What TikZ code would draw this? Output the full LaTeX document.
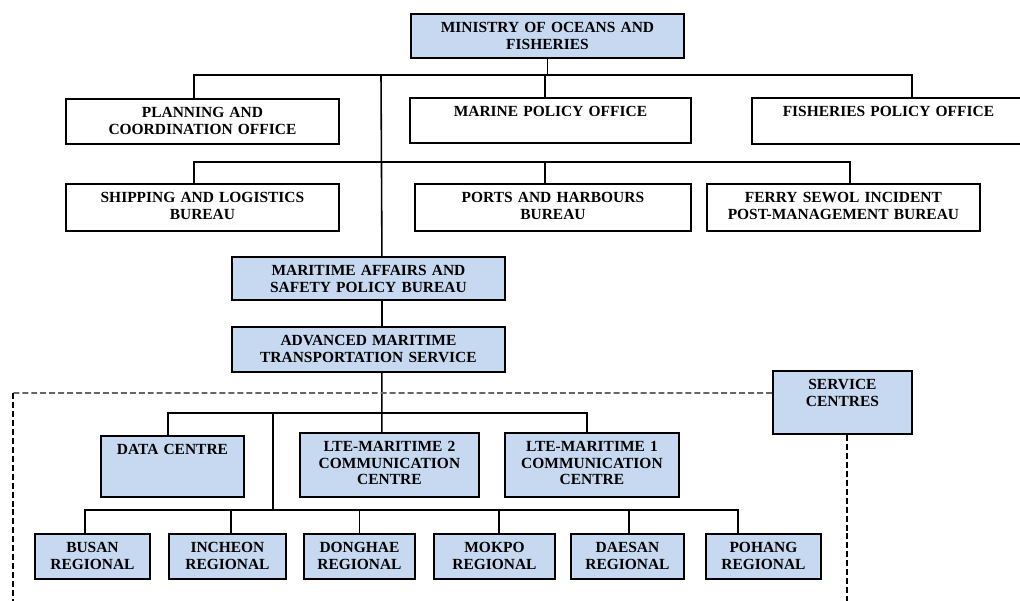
\documentclass[tikz,border=0pt]{standalone}
\usepackage{fontspec}
\setmainfont{Liberation Serif}
\usepackage{tikz}
\usetikzlibrary{positioning}
\definecolor{agencyblue}{RGB}{198,217,240}

\begin{document}
\begin{tikzpicture}[
    x=0.02cm, y=-0.02cm,
    thick,
    unit/.style={rectangle, draw=black, line width=1.1pt, inner sep=0pt, anchor=north west, align=center, text height=0.38cm, font=\bfseries\fontsize{8.8}{9.3}\selectfont},
    office/.style={unit, fill=white},
    agency/.style={unit, fill=agencyblue},
    link/.style={line width=0.9pt},
    boundary/.style={line width=1pt, dash pattern=on 3.4pt off 1.7pt}
]
\useasboundingbox (0,0) rectangle (1020,601);
% Ministry
\node[agency, text width=5.46cm, text depth=0.50cm] (ministry) at (410,13) {MINISTRY OF OCEANS AND\\FISHERIES};
% Offices
\node[office, text width=5.46cm, text depth=0.52cm] (planning) at (65,98) {PLANNING AND\\COORDINATION OFFICE};
\node[office, text width=5.62cm, text depth=0.52cm] (marine) at (409,97) {MARINE POLICY OFFICE};
\node[office, text width=5.46cm, text depth=0.54cm] (fisheries) at (751,97) {FISHERIES POLICY OFFICE};
% Bureaus
\node[office, text width=5.46cm, text depth=0.56cm] (shipping) at (65,183) {SHIPPING AND LOGISTICS\\BUREAU};
\node[office, text width=5.52cm, text depth=0.56cm] (ports) at (414,183) {PORTS AND HARBOURS\\BUREAU};
\node[office, text width=5.46cm, text depth=0.56cm] (ferry) at (706,183) {FERRY SEWOL INCIDENT\\POST-MANAGEMENT BUREAU};
% Maritime safety line
\node[agency, text width=5.46cm, text depth=0.48cm] (maritime) at (231,256) {MARITIME AFFAIRS AND\\SAFETY POLICY BUREAU};
\node[agency, text width=5.46cm, text depth=0.52cm] (advanced) at (231,326) {ADVANCED MARITIME\\TRANSPORTATION SERVICE};
\node[agency, text width=2.78cm, text depth=0.88cm] (service) at (772,370) {SERVICE\\CENTRES};
% Centres
\node[agency, text width=2.86cm, text depth=0.84cm] (data) at (100,435) {DATA CENTRE};
\node[agency, text width=3.58cm, text depth=0.90cm] (lte2) at (299,432) {LTE-MARITIME 2\\COMMUNICATION\\CENTRE};
\node[agency, text width=3.48cm, text depth=0.90cm] (lte1) at (504,432) {LTE-MARITIME 1\\COMMUNICATION\\CENTRE};
% Regional centres
\node[agency, text width=2.30cm, text depth=0.52cm] (busan) at (34,533) {BUSAN\\REGIONAL};
\node[agency, text width=2.34cm, text depth=0.52cm] (incheon) at (168,533) {INCHEON\\REGIONAL};
\node[agency, text width=2.22cm, text depth=0.52cm] (donghae) at (303,533) {DONGHAE\\REGIONAL};
\node[agency, text width=2.42cm, text depth=0.52cm] (mokpo) at (433,533) {MOKPO\\REGIONAL};
\node[agency, text width=2.26cm, text depth=0.52cm] (daesan) at (570,533) {DAESAN\\REGIONAL};
\node[agency, text width=2.30cm, text depth=0.52cm] (pohang) at (705,533) {POHANG\\REGIONAL};
% Bus points
\coordinate (bus1) at (381,75);
\coordinate (bus2) at (381,162);
\coordinate (bus3) at (381,413);
\coordinate (bus4) at (273,510);
\coordinate (corner) at (13,393);
\coordinate (leftend) at (13,605);
\coordinate (rightend) at (847,605);
% Links
\draw[link] (ministry.south) -- (ministry.south |- bus1);
\draw[link] ([xshift=-0.17cm]planning.north) |- (bus1) -| ([xshift=0.47cm]fisheries.north);
\draw[link] ([xshift=-0.11cm]marine.north) |- (bus1);
\draw[link] (bus1) -- ([xshift=0.27cm]maritime.north);
\draw[link] ([xshift=-0.17cm]shipping.north) |- (bus2) -| ([xshift=0.13cm]ferry.north);
\draw[link] ([xshift=-0.16cm]ports.north) |- (bus2);
\draw[link] ([xshift=0.27cm]maritime.south) -- ([xshift=0.27cm]advanced.north);
\draw[link] ([xshift=0.27cm]advanced.south) -- ([xshift=-0.15cm]lte2.north);
\draw[link] ([xshift=-0.09cm]data.north) |- (bus3) -| ([xshift=-0.10cm]lte1.north);
\draw[link] (bus3 -| bus4) -- (bus4);
\draw[link] ([xshift=-0.15cm]busan.north) |- (bus4) -| ([xshift=-0.51cm]pohang.north);
\draw[link] ([xshift=0.07cm]incheon.north) |- (bus4);
\draw[link] (donghae.north) |- (bus4);
\draw[link] ([xshift=0.09cm]mokpo.north) |- (bus4);
\draw[link] ([xshift=0.03cm]daesan.north) |- (bus4);
% Service centre boundary
\draw[boundary, draw=black!60] ([yshift=-0.46cm]service.north west) -- (corner);
\draw[boundary] (corner) -- (leftend);
\draw[boundary] (service.south -| rightend) -- (rightend);
\end{tikzpicture}
\end{document}
